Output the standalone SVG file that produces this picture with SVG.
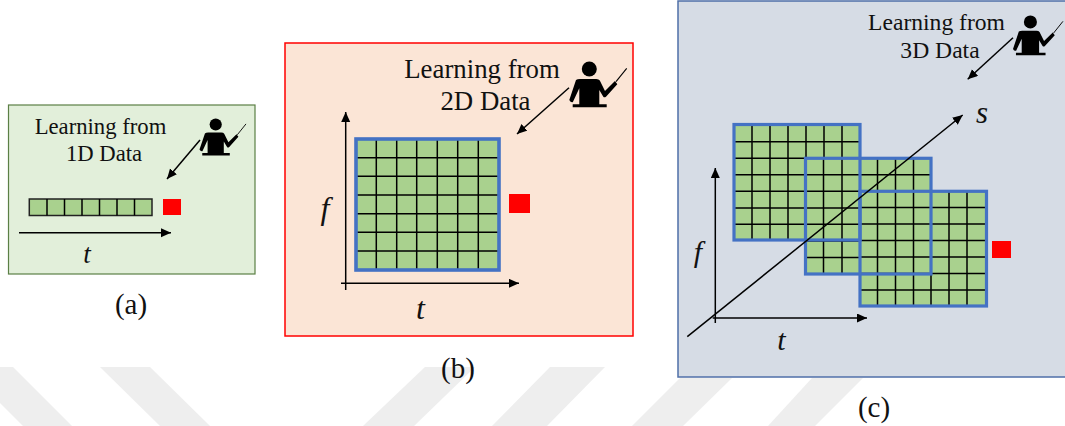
<svg xmlns="http://www.w3.org/2000/svg" width="1065" height="426" viewBox="0 0 1065 426">
<style>
text{font-family:"Liberation Serif","Times New Roman",serif;fill:#111;text-anchor:middle}
.m{font-style:italic}
.cap{font-size:29px}
.ax{stroke:#000;stroke-width:1.5;fill:none;marker-end:url(#ah)}
.cell{fill:#a9d18e}
.gl{fill:none;stroke:#000;stroke-width:1.5}
.bd{fill:none;stroke:#4472c4;stroke-width:3.2}
.red{fill:#f00}
.wm{fill:#eeeeee}
</style>
<defs>
<marker id="ah" markerUnits="userSpaceOnUse" markerWidth="12" markerHeight="10" refX="10" refY="4.5" orient="auto"><path d="M0,0L10,4.5L0,9Z" fill="#000"/></marker>
<g id="person">
<circle cx="20" cy="8" r="7.5" fill="#000"/>
<path d="M6.7,19Q8,18 10.7,18L27,18Q29.5,18 30.5,19.5L35.7,30L45.7,20L48,23.3L36.7,35.7Q35,37 34,35.7L30,29L30,43.3L37.4,43.3L37.4,46.2L3.4,46.2L3.4,43.3L10,43.3L10,27.3L3.6,41Q1.5,41.8 0,39Z" fill="#000"/>
<path d="M46.7,20.7L57.4,7.3" stroke="#000" stroke-width="1.1" fill="none"/>
</g>
</defs>
<g id="watermark">
<path class="wm" d="M-36,367L13,367L72,426L23,426Z"/>
<path class="wm" d="M100,367L150,367L210,426L160,426Z"/>
<path class="wm" d="M425,367L475,367L414,426L363,426Z"/>
<path class="wm" d="M550,367L605,367L547,426L492,426Z"/>
<path class="wm" d="M680,378L732,378L683,426L632,426Z"/>
<path class="wm" d="M812,378L863,378L815,426L768,426Z"/>
</g>
<g id="panel-a">
<rect x="8.5" y="105" width="246.5" height="169" fill="#e2efda" stroke="#5b7f45" stroke-width="1.2"/>
<text x="100.5" y="134" font-size="22.7">Learning from</text>
<text x="104" y="160.5" font-size="22.7">1D Data</text>
<use href="#person" transform="translate(199.5,118) scale(.81)"/>
<rect class="cell" x="29.3" y="199" width="122.7" height="16.5" stroke="#222" stroke-width="1.5"/>
<path class="gl" d="M47,199V215.5M64.5,199V215.5M82,199V215.5M99.5,199V215.5M117,199V215.5M134.5,199V215.5" stroke="#222"/>
<rect class="red" x="163" y="199" width="18" height="16"/>
<text class="m" x="87" y="263" font-size="27">t</text>
<text class="cap" x="131" y="314">(a)</text>
</g>
<g id="panel-b">
<rect x="285" y="43" width="348" height="293" fill="#fbe5d6" stroke="#f00" stroke-width="1.5"/>
<text x="482" y="78" font-size="26.8">Learning from</text>
<text x="485.5" y="110" font-size="26.8">2D Data</text>
<use href="#person" transform="translate(569.3,61)"/>
<rect class="cell" x="356" y="139" width="143" height="131"/>
<path class="gl" d="M376.3,139V270M396.7,139V270M416.7,139V270M437.3,139V270M457.7,139V270M478.3,139V270M356,157.7H499M356,176.3H499M356,195H499M356,213.7H499M356,232.3H499M356,251H499"/>
<rect class="bd" x="356" y="139" width="143" height="131" style="stroke-width:3.6"/>
<rect class="red" x="509" y="194" width="21" height="19"/>
<text class="m" x="325" y="219" font-size="32">f</text>
<text class="m" x="420.5" y="319" font-size="32">t</text>
<text class="cap" x="458" y="378">(b)</text>
</g>
<g id="panel-c">
<rect x="678" y="1" width="390" height="376" fill="#d6dce5" stroke="#4f6fa8" stroke-width="1.5"/>
<text x="936.5" y="30" font-size="23.6">Learning from</text>
<text x="940" y="58" font-size="23.6">3D Data</text>
<use href="#person" transform="translate(1013,15) scale(.87)"/>
<g id="grid-1">
<rect class="cell" x="734" y="124.5" width="126" height="115.5"/>
<path class="gl" d="M752,124.5V240M770,124.5V240M788,124.5V240M806,124.5V240M824,124.5V240M842,124.5V240M734,141.7H860M734,158.3H860M734,174.7H860M734,191.3H860M734,208H860M734,224.3H860"/>
</g>
<g id="grid-2">
<rect class="cell" x="805.5" y="158.3" width="125.5" height="115.7"/>
<path class="gl" d="M823.5,158.3V274M842,158.3V274M860,158.3V274M877.5,158.3V274M895.5,158.3V274M913.5,158.3V274M805.5,174.7H931M805.5,191.3H931M805.5,208H931M805.5,224.3H931M805.5,241H931M805.5,257.5H931"/>
</g>
<g id="grid-3">
<rect class="cell" x="860" y="191.3" width="126.5" height="114.7"/>
<path class="gl" d="M877.5,191.3V306M895.5,191.3V306M913.5,191.3V306M931,191.3V306M949,191.3V306M967,191.3V306M860,207.5H986.5M860,224H986.5M860,240.5H986.5M860,257H986.5M860,273.5H986.5M860,290H986.5"/>
</g>
<g id="grid-borders">
<rect class="bd" x="734" y="124.5" width="126" height="115.5"/>
<rect class="bd" x="805.5" y="158.3" width="125.5" height="115.7"/>
<rect class="bd" x="860" y="191.3" width="126.5" height="114.7"/>
</g>
<rect class="red" x="992" y="241" width="19" height="17"/>
<text class="m" x="982" y="123" font-size="31">s</text>
<text class="m" x="698" y="262" font-size="30">f</text>
<text class="m" x="781.5" y="350" font-size="30">t</text>
<text class="cap" x="874" y="417">(c)</text>
</g>
<g id="connectors">
<path class="ax" d="M200,140L167,179"/>
<path class="ax" d="M19,232.7H171"/>
<path class="ax" d="M569,87.7L517,134"/>
<path class="ax" d="M345.7,290V112"/>
<path class="ax" d="M341,283.3H519"/>
<path class="ax" d="M1013,37.7L967.7,79.3"/>
<path class="ax" d="M715.3,323V168"/>
<path class="ax" d="M712.7,318H867"/>
<path class="ax" d="M687.3,336.7L962.7,115"/>
</g>
</svg>
